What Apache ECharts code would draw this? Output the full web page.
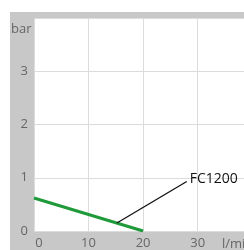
<!DOCTYPE html>
<html><head><meta charset="utf-8">
<script src="https://cdn.jsdelivr.net/npm/echarts@6/dist/echarts.min.js"></script>
<style>html,body{margin:0;padding:0;background:#fff}#c{width:244px;height:250px}</style>
</head><body><div id="c"></div>
<script>
const xTicks = [0, 10, 20, 30];
const yTicks = [0, 1, 2, 3];
const xName = 'l/min';
const yName = 'bar';
const curveName = 'FC1200';
const curveX = [0, 20];
const curveY = [0.62, 0];
const pointerX = [15.2, 28.0];
const pointerY = [0.15, 0.93];

const chart = echarts.init(document.getElementById('c'), null, {renderer: 'canvas'});
const font = 'Open Sans';
chart.setOption({
  animation: false,
  backgroundColor: '#fff',
  graphic: [
    {type: 'rect', left: 10, top: 12, shape: {width: 234, height: 238}, style: {fill: '#c8c8c8'}, z: -10},
    {type: 'text', left: 11, top: 23, style: {text: yName, fill: '#666', font: '13px "Open Sans"'}, z: 10},
    {type: 'text', left: 222, top: 238, style: {text: xName, fill: '#666', font: '13px "Open Sans"'}, z: 10}
  ],
  grid: {left: 34, top: 18, right: 0, bottom: 16, show: true, backgroundColor: '#fff', borderWidth: 0},
  xAxis: {
    type: 'value', min: 0, max: 38.5, interval: 10,
    axisLine: {show: false}, axisTick: {show: false},
    splitLine: {show: true, lineStyle: {color: '#dcdcdc', width: 1}},
    axisLabel: {color: '#666', fontFamily: font, fontSize: 13, margin: 6, showMaxLabel: false,
      formatter: v => xTicks.includes(v) ? (v === 0 ? '{z|0}' : String(v)) : '',
      rich: {z: {padding: [0, 0, 0, 10], fontSize: 13, color: '#666', fontFamily: font}}}
  },
  yAxis: {
    type: 'value', min: 0, max: 4, interval: 1,
    axisLine: {show: false}, axisTick: {show: false},
    splitLine: {show: true, lineStyle: {color: '#dcdcdc', width: 1}},
    axisLabel: {color: '#666', fontFamily: font, fontSize: 13, margin: 6,
      formatter: v => yTicks.includes(v) ? String(v) : ''}
  },
  series: [
    {type: 'line', name: curveName, data: curveX.map((x, i) => [x, curveY[i]]), symbol: 'none',
      lineStyle: {color: '#1f9a3a', width: 3}, z: 3},
    {type: 'line', name: 'pointer', data: pointerX.map((x, i) => [x, pointerY[i]]), symbol: 'none',
      lineStyle: {color: '#111', width: 1.3}, z: 4,
      endLabel: {show: true, formatter: () => curveName, color: '#111', fontFamily: font, fontSize: 14, distance: 3, offset: [0, -2]}}
  ]
});
</script></body></html>
